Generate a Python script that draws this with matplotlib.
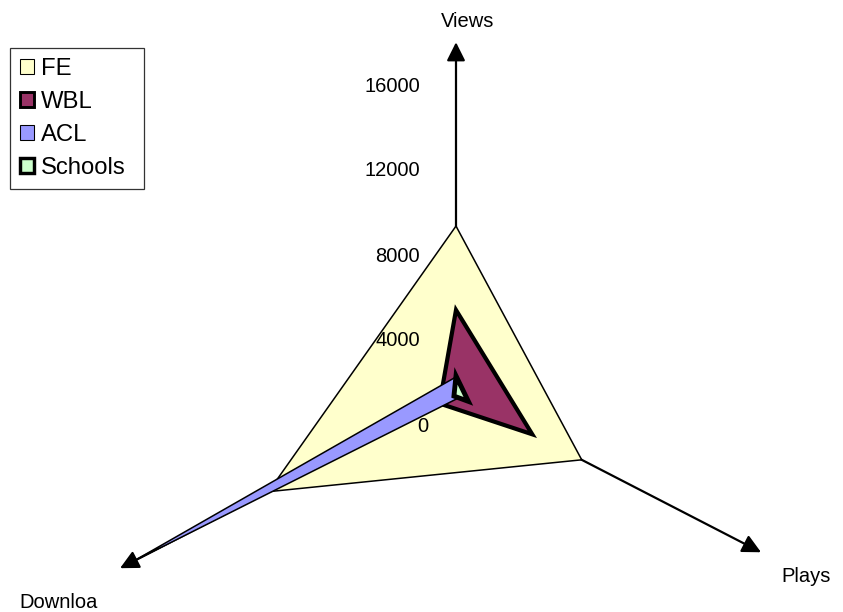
import numpy as np
import matplotlib
matplotlib.use("Agg")
import matplotlib.pyplot as plt
from matplotlib.patches import Polygon, Patch

plt.rcParams['font.family'] = ['Liberation Sans', 'DejaVu Sans']

# radar data, one value per spoke
spokes = ["Views", "Plays", "Downloa"]
angles = [90, -30, 210]
FE = [7950, 6100, 9100]
WBL = [4000, 3700, 800]
ACL = [850, 200, 15700]
Schools = [900, 600, 100]
ticks = [0, 4000, 8000, 12000, 16000]
arrow_len = [16600, 14800, 16300]

series = [
    ("FE", FE, "#FFFFCC", 1.1),
    ("WBL", WBL, "#993366", 3.0),
    ("ACL", ACL, "#9999FF", 1.1),
    ("Schools", Schools, "#CCFFCC", 3.5),
]

W, H = 843, 612
cx, cy = 456, 395          # centre in pixels
ky = 85 / 4000             # pixels per unit, vertical
kx = ky * 1.12             # plot area is a bit wider than tall

fig = plt.figure(figsize=(W / 100, H / 100), dpi=100)
ax = fig.add_axes([0, 0, 1, 1])
ax.set_xlim(-cx / kx, (W - cx) / kx)
ax.set_ylim(-(H - cy) / ky, cy / ky)
ax.axis("off")


def xy(r, a):
    t = np.radians(a)
    return r * np.cos(t), r * np.sin(t)


# spokes with arrow heads
for a, L in zip(angles, arrow_len):
    ax.annotate("", xy=xy(L, a), xytext=(0, 0),
                arrowprops=dict(arrowstyle="-|>", color="black", lw=1.6,
                                mutation_scale=28, shrinkA=0, shrinkB=0),
                zorder=1)

# filled series polygons
for i, (name, vals, col, lw) in enumerate(series):
    pts = [xy(v, a) for v, a in zip(vals, angles)]
    ax.add_patch(Polygon(pts, closed=True, facecolor=col, edgecolor="black",
                         linewidth=lw, joinstyle="miter", zorder=2 + i))

# value labels along the vertical spoke
for t in ticks:
    ax.annotate(str(t), xy=(0, t), xytext=(-36 if t else -33, -31),
                textcoords="offset pixels", ha="right" if t else "center",
                va="center", fontsize=14.5, zorder=10)

# spoke names
ax.annotate(spokes[0], xy=xy(arrow_len[0], 90), xytext=(12, 21),
            textcoords="offset pixels", ha="center", va="center", fontsize=14.5)
ax.annotate(spokes[1], xy=xy(arrow_len[1], -30), xytext=(45, -24),
            textcoords="offset pixels", ha="center", va="center", fontsize=14.5)
ax.annotate(spokes[2], xy=xy(arrow_len[2], 210), xytext=(-61, -34),
            textcoords="offset pixels", ha="center", va="center", fontsize=14.5)

handles = [Patch(facecolor=col, edgecolor="black", linewidth=lw * 0.7, label=name)
           for name, vals, col, lw in series]
leg = fig.legend(handles=handles, loc="upper left", mode="expand",
                 bbox_to_anchor=(10 / W, 1 - 185 / H, 134 / W, 137 / H),
                 borderaxespad=0, fontsize=17.2, frameon=True, fancybox=False,
                 shadow=False, handlelength=0.6, handleheight=0.6,
                 handletextpad=0.3, labelspacing=0.47, borderpad=0.4)
leg.get_frame().set_edgecolor("black")
leg.get_frame().set_linewidth(0.9)

fig.savefig("out.png", dpi=100)
